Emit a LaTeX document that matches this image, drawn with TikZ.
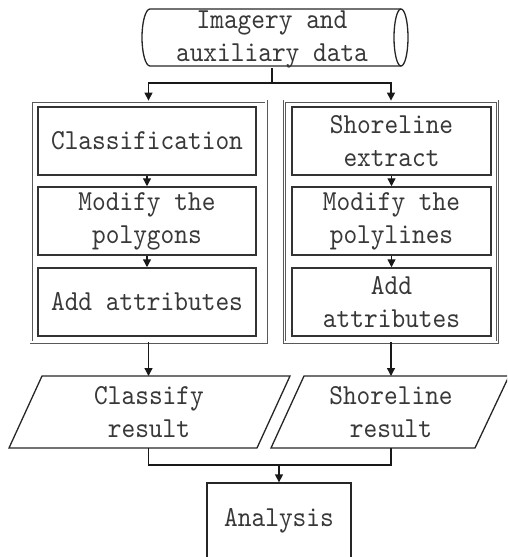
\documentclass[tikz,border=0pt]{standalone}
\usepackage{fontspec}
\setmonofont{lmmono10-regular}[Extension=.otf, FakeStretch=0.9]
\usetikzlibrary{arrows.meta}
\tikzset{
  txt/.style={align=center, text=black!78, font=\ttfamily\fontsize{29}{33}\selectfont},
  inner/.style={txt, draw=black!80, line width=1.5pt, minimum height=68pt, inner sep=0pt},
  outer/.style={draw=black!65, double=white, line width=0.8pt, double distance=1.4pt, inner sep=0pt},
  conn/.style={draw=black!90, line width=1.3pt},
  arr/.style={conn, -{Triangle[length=8pt,width=8pt]}},
  shapeline/.style={draw=black!85, line width=1.3pt}
}
\begin{document}
\begin{tikzpicture}[x=1pt,y=-1pt]
\useasboundingbox (0,0) rectangle (507,557);
\clip (0,0) rectangle (507,557);
% source cylinder
\draw[shapeline] (401,9) -- (150,9) .. controls (145.6,9) and (142,21.8) .. (142,37.5)
  .. controls (142,53.2) and (145.6,66) .. (150,66) -- (401,66);
\draw[shapeline] (401,37.5) ellipse [x radius=7, y radius=28.5];
\node[txt, minimum height=53pt, inner sep=0pt] (src) at (272,39.5) {Imagery and\\auxiliary data};
\coordinate (split) at (272,83);
% outer boxes
\node[outer, minimum width=235pt, minimum height=241pt] (L) at (148.5,221.5) {};
\node[outer, minimum width=213pt, minimum height=241pt] (R) at (391,221.5) {};
% inner left
\node[inner, minimum width=218pt] (l1) at (147,141) {Classification};
\node[inner, minimum width=218pt] (l2) at (147,221) {Modify the\\polygons};
\node[inner, minimum width=218pt] (l3) at (147,302) {Add attributes};
% inner right
\node[inner, minimum width=199pt] (r1) at (391.5,141) {Shoreline\\extract};
\node[inner, minimum width=199pt] (r2) at (391.5,221) {Modify the\\polylines};
\node[inner, minimum width=199pt] (r3) at (391.5,302) {Add\\attributes};
% parallelograms
\draw[shapeline] (42,376) -- (290,376) -- (257,448) -- (9,448) -- cycle;
\draw[shapeline] (304,376) -- (509,376) -- (475,448) -- (271,448) -- cycle;
\node[txt] (cr) at (149,412) {Classify\\result};
\node[txt] (sr) at (391,412) {Shoreline\\result};
\coordinate (ptop) at (0,376);
\coordinate (pbot) at (0,448);
\coordinate (join) at (0,465);
% analysis
\node[txt, draw=black!85, line width=1.3pt, minimum width=144pt, minimum height=75pt, inner sep=0pt] (A) at (279,520.5) {Analysis};
% connectors
\draw[conn] (src.south) -- (split);
\draw[arr] (split) -| (L.north);
\draw[arr] (split) -| (R.north);
\draw[arr] (l1.south) -- (l2.north);
\draw[arr] (l2.south) -- (l3.north);
\draw[arr] (r1.south) -- (r2.north);
\draw[arr] (r2.south) -- (r3.north);
\draw[arr] (L.south) -- (L.south |- ptop);
\draw[arr] (R.south) -- (R.south |- ptop);
\draw[conn] (L.south |- pbot) -- (L.south |- join) -- (R.south |- join) -- (R.south |- pbot);
\draw[arr] (A.north |- join) -- (A.north);
\end{tikzpicture}
\end{document}
